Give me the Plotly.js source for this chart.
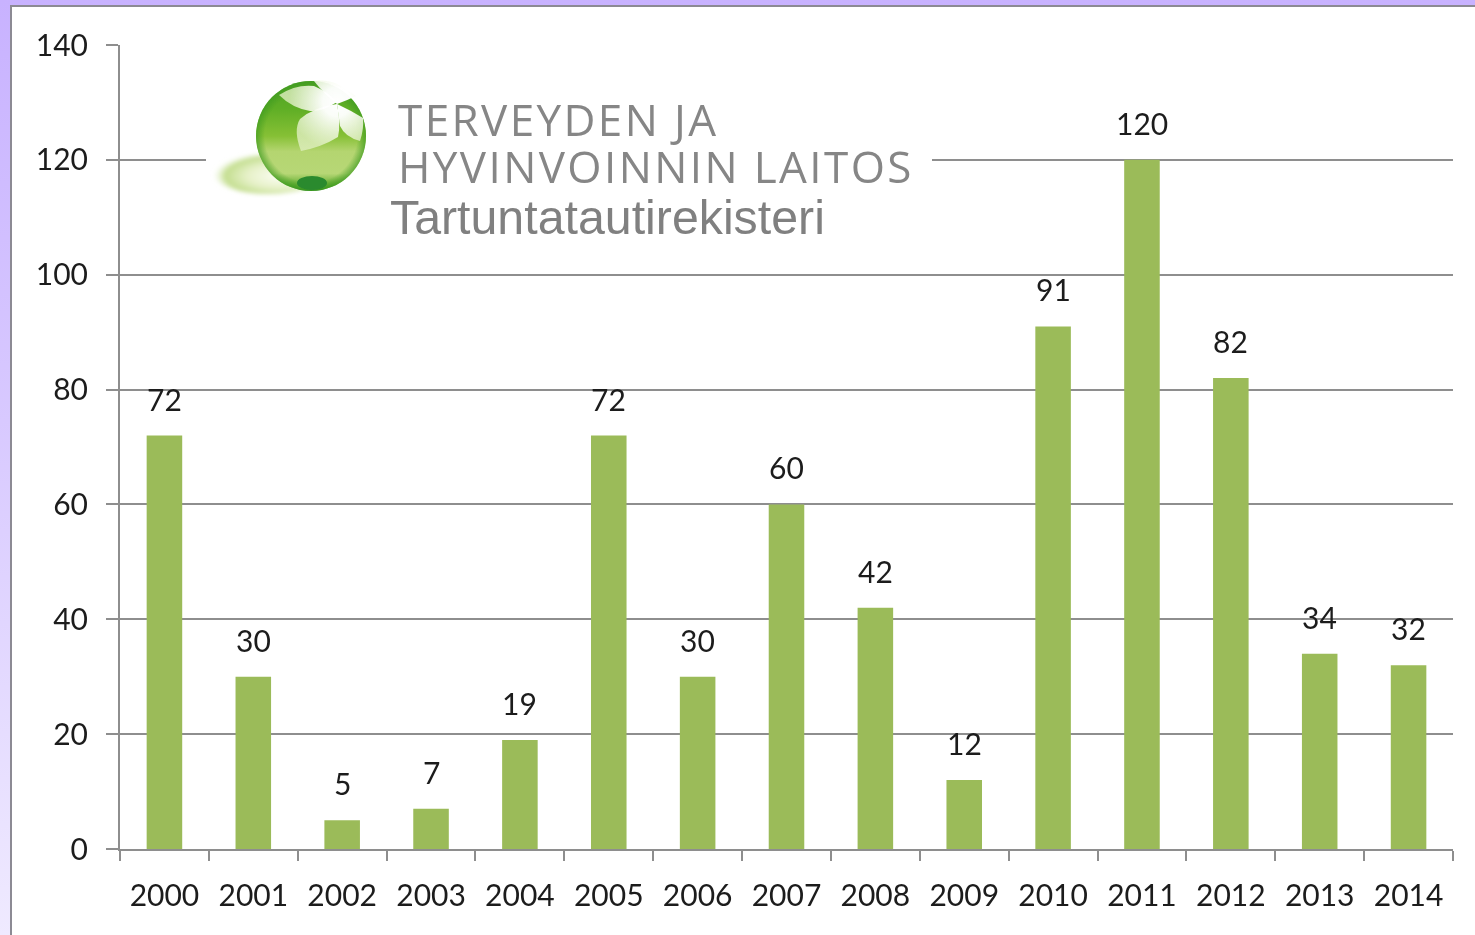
<!DOCTYPE html>
<html><head><meta charset="utf-8">
<script src="https://cdn.plot.ly/plotly-3.0.0.min.js"></script>
<style>
html,body{margin:0;padding:0;width:1475px;height:935px;overflow:hidden;background:linear-gradient(180deg,#c8b2ff 0%,#d8c9ff 45%,#efeaff 100%);}
#panel{position:absolute;left:10px;top:5px;width:1465px;height:930px;background:#fff;border-left:2.5px solid #8c8a94;border-top:2.5px solid #8c8a94;box-sizing:border-box;}
#chart{position:absolute;left:0;top:0;width:1475px;height:935px;filter:blur(0.5px);}
text[data-unformatted^="TERVEYDEN"]{letter-spacing:2.4px;}
text[data-unformatted^="HYVINVOINNIN"]{letter-spacing:2.4px;}
</style></head><body>
<div id="panel"></div><div id="chart"></div>
<script>
var years=['2000','2001','2002','2003','2004','2005','2006','2007','2008','2009','2010','2011','2012','2013','2014'];
var cases=[72,30,5,7,19,72,30,60,42,12,91,120,82,34,32];
var yTicks=[0,20,40,60,80,100,120,140];
var logoLine1='TERVEYDEN JA';
var logoLine2='HYVINVOINNIN LAITOS';
var registry='Tartuntatautirekisteri';

var logoSvg='<svg xmlns="http://www.w3.org/2000/svg" width="726" height="165" viewBox="0 0 726 165">'+
'<defs>'+
'<radialGradient id="sh" cx="0.62" cy="0.55" r="0.62"><stop offset="0" stop-color="#fdfef6"/><stop offset="0.5" stop-color="#e6f1c8"/><stop offset="0.82" stop-color="#c4de90"/><stop offset="1" stop-color="#e8f3d2" stop-opacity="0"/></radialGradient>'+
'<linearGradient id="b" x1="0" y1="0" x2="0" y2="1"><stop offset="0" stop-color="#4da224"/><stop offset="0.25" stop-color="#5fae25"/><stop offset="0.5" stop-color="#86c035"/><stop offset="0.64" stop-color="#b4d570"/><stop offset="0.84" stop-color="#b7d776"/><stop offset="0.95" stop-color="#62ad30"/><stop offset="1" stop-color="#2f8e24"/></linearGradient>'+
'<radialGradient id="edge" cx="0.5" cy="0.5" r="0.5"><stop offset="0.84" stop-color="#3d9a20" stop-opacity="0"/><stop offset="1" stop-color="#3d9a20" stop-opacity="0.7"/></radialGradient>'+
'<radialGradient id="gl" cx="127" cy="28" r="48" gradientUnits="userSpaceOnUse"><stop offset="0" stop-color="#fff"/><stop offset="0.3" stop-color="#fff" stop-opacity="0.97"/><stop offset="1" stop-color="#dfeec0" stop-opacity="0.8"/></radialGradient>'+
'<filter id="f"><feGaussianBlur stdDeviation="2"/></filter>'+
'<filter id="s"><feGaussianBlur stdDeviation="0.6"/></filter>'+
'</defs>'+
'<rect width="726" height="165" fill="#fff"/>'+
'<g transform="translate(4,0)">'+
'<ellipse cx="58" cy="100" rx="55" ry="20" fill="url(#sh)" filter="url(#f)"/>'+
'<circle cx="101" cy="62" r="55" fill="url(#b)"/>'+
'<circle cx="101" cy="62" r="55" fill="url(#edge)"/>'+
'<ellipse cx="102" cy="109" rx="15" ry="7" fill="#2a8a2e" filter="url(#s)"/>'+
'<g filter="url(#s)">'+
'<path d="M69 21 Q86 10 104 12 Q118 18 127 28 Q112 38 100 37 Q82 34 69 21Z" fill="url(#gl)"/>'+
'<path d="M91 77 Q83 56 90 45 Q104 33 127 30 Q131 50 128 63 Q112 73 91 77Z" fill="url(#gl)"/>'+
'<path d="M127 30 Q140 36 153 44 Q154 55 150 67 Q135 63 130 52Z" fill="url(#gl)"/>'+
'<path d="M104 7 Q118 5 129 11 L146 22 Q138 26 127 30 Q114 20 104 7Z" fill="url(#gl)"/>'+
'</g></g></svg>';

var trace={type:'bar',x:years,y:cases,marker:{color:'#9bbb59',line:{width:0}},width:0.4,hoverinfo:'x+y'};
var labels=years.map(function(y,i){return {x:i,y:cases[i],xref:'x',yref:'y',text:String(cases[i]),showarrow:false,yanchor:'bottom',yshift:17,font:{family:'Lato, sans-serif',size:30,color:'#1c1c1c'}};});
var logoFont='Open Sans, sans-serif';
var logoText=[
 {xref:'paper',yref:'paper',xanchor:'left',yanchor:'middle',x:(396-120)/1333,y:(850-120)/804,text:logoLine1,showarrow:false,font:{family:logoFont,size:44,weight:500,color:'#868686'}},
 {xref:'paper',yref:'paper',xanchor:'left',yanchor:'middle',x:(396-120)/1333,y:(850-167)/804,text:logoLine2,showarrow:false,font:{family:logoFont,size:44,weight:500,color:'#868686'}},
 {xref:'paper',yref:'paper',xanchor:'left',yanchor:'middle',x:(388-120)/1333,y:(850-217.5)/804,text:registry,showarrow:false,font:{family:'Liberation Sans, Arial, sans-serif',size:48.3,color:'#808080'}}
];
var axisGray='#8e8e8e';
var layout={
 width:1475,height:935,margin:{l:120,r:22,t:45,b:86},
 paper_bgcolor:'rgba(0,0,0,0)',plot_bgcolor:'rgba(0,0,0,0)',showlegend:false,
 xaxis:{type:'category',range:[-0.5,14.5],categoryorder:'array',categoryarray:years,tickson:'boundaries',ticks:'outside',ticklen:10,tickwidth:2,tickcolor:axisGray,showline:true,linecolor:axisGray,linewidth:2,showgrid:false,zeroline:false,tickfont:{family:'Lato, sans-serif',size:30,color:'#1c1c1c'},ticklabelstandoff:19,automargin:false,tickangle:0,dtick:1},
 yaxis:{range:[0,140],tickvals:yTicks,ticktext:yTicks.map(String),ticks:'outside',ticklen:12,tickwidth:2,tickcolor:axisGray,showline:true,linecolor:axisGray,linewidth:2,showgrid:true,gridcolor:axisGray,gridwidth:2,zeroline:false,tickfont:{family:'Lato, sans-serif',size:30,color:'#1c1c1c'},ticklabelstandoff:12,automargin:false},
 images:[{source:'data:image/svg+xml;charset=utf-8,'+encodeURIComponent(logoSvg),xref:'paper',yref:'paper',x:(206-120)/1333,y:(850-75)/804,sizex:726/1333,sizey:165/804,xanchor:'left',yanchor:'top',sizing:'stretch',layer:'above'}],
 annotations:labels.concat(logoText)
};
Plotly.newPlot('chart',[trace],layout,{displayModeBar:false,staticPlot:true});
</script></body></html>
